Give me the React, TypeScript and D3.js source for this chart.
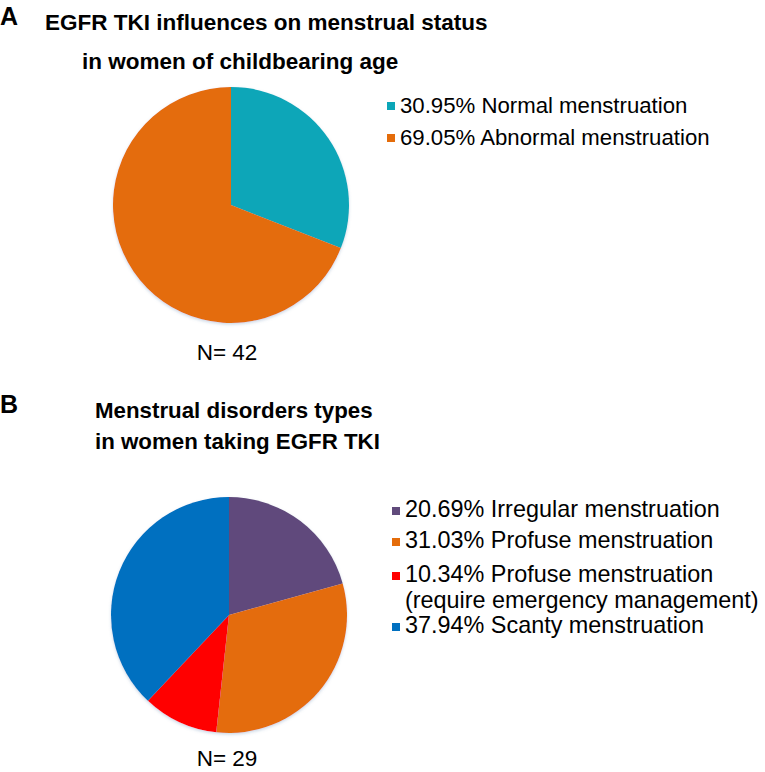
import { arc, pie, scaleOrdinal } from 'd3';

// panel A: menstrual status
const statusLabels = ['Normal menstruation', 'Abnormal menstruation'];
const statusValues = [30.95, 69.05];
const statusColors = ['#0ba6b8', '#e46c0a'];

// panel B: disorder types
const disorderLabels = [
  ['Irregular menstruation'],
  ['Profuse menstruation'],
  ['Profuse menstruation', '(require emergency management)'],
  ['Scanty menstruation'],
];
const disorderValues = [20.69, 31.03, 10.34, 37.94];
const disorderColors = ['#604a7b', '#e46c0a', '#ff0000', '#0070c0'];

const sampleSizes = [42, 29];

const width = 765;
const height = 772;
const font = '"Liberation Sans", Arial, Helvetica, sans-serif';

type PieProps = {
  id: string;
  cx: number;
  cy: number;
  r: number;
  values: number[];
  colors: string[];
};

function PieMarks({ id, cx, cy, r, values, colors }: PieProps) {
  const color = scaleOrdinal<number, string>().domain(values.map((_, i) => i)).range(colors);
  const arcs = pie<number>().sort(null).value(d => d)(values);
  const path = arc<any>().innerRadius(0).outerRadius(r);
  return (
    <g transform={`translate(${cx},${cy})`} filter={`url(#${id}-shadow)`}>
      {arcs.map((a, i) => (
        <path key={i} d={path(a) ?? ''} fill={color(i)} />
      ))}
    </g>
  );
}

export default function App() {
  const fmt = (v: number) => `${v.toFixed(2)}%`;
  const rowsB = [517, 548, 582, 633];

  return (
    <svg
      width={width}
      height={height}
      viewBox={`0 0 ${width} ${height}`}
      style={{ position: 'absolute', left: 0, top: 0, background: '#fff' }}
      fontFamily={font}
    >
      <defs>
        {['a', 'b'].map(k => (
          <filter key={k} id={`${k}-shadow`} x="-10%" y="-10%" width="120%" height="120%">
            <feDropShadow dx="0" dy="1.5" stdDeviation="1.5" floodColor="#6b8fb5" floodOpacity="0.35" />
          </filter>
        ))}
      </defs>

      {/* Panel A */}
      <text x={0} y={25} fontSize={25} fontWeight="bold">A</text>
      <text x={45} y={30} fontSize={22.5} fontWeight="bold">EGFR TKI influences on menstrual status</text>
      <text x={82} y={69} fontSize={22.5} fontWeight="bold">in women of childbearing age</text>

      <PieMarks id="a" cx={231} cy={205} r={118} values={statusValues} colors={statusColors} />

      {statusLabels.map((label, i) => {
        const y = 113 + i * 32;
        return (
          <g key={label}>
            <rect x={387} y={y - 11} width={8} height={8} fill={statusColors[i]} />
            <text x={400} y={y} fontSize={22.2}>{`${fmt(statusValues[i])} ${label}`}</text>
          </g>
        );
      })}

      <text x={227} y={360} fontSize={22.5} textAnchor="middle">{`N= ${sampleSizes[0]}`}</text>

      {/* Panel B */}
      <text x={0} y={413} fontSize={25} fontWeight="bold">B</text>
      <text x={95} y={418} fontSize={22.3} fontWeight="bold">Menstrual disorders types</text>
      <text x={95} y={449} fontSize={22.3} fontWeight="bold">in women taking EGFR TKI</text>

      <PieMarks id="b" cx={229} cy={615} r={118} values={disorderValues} colors={disorderColors} />

      {disorderLabels.map((lines, i) => {
        const y = rowsB[i];
        return (
          <g key={i}>
            <rect x={392} y={y - 10} width={8} height={8} fill={disorderColors[i]} />
            <text x={405} y={y} fontSize={23.4}>{`${fmt(disorderValues[i])} ${lines[0]}`}</text>
            {lines.slice(1).map((l, j) => (
              <text key={j} x={405} y={y + 26 * (j + 1)} fontSize={23.4}>{l}</text>
            ))}
          </g>
        );
      })}

      <text x={227} y={766} fontSize={22.5} textAnchor="middle">{`N= ${sampleSizes[1]}`}</text>
    </svg>
  );
}
